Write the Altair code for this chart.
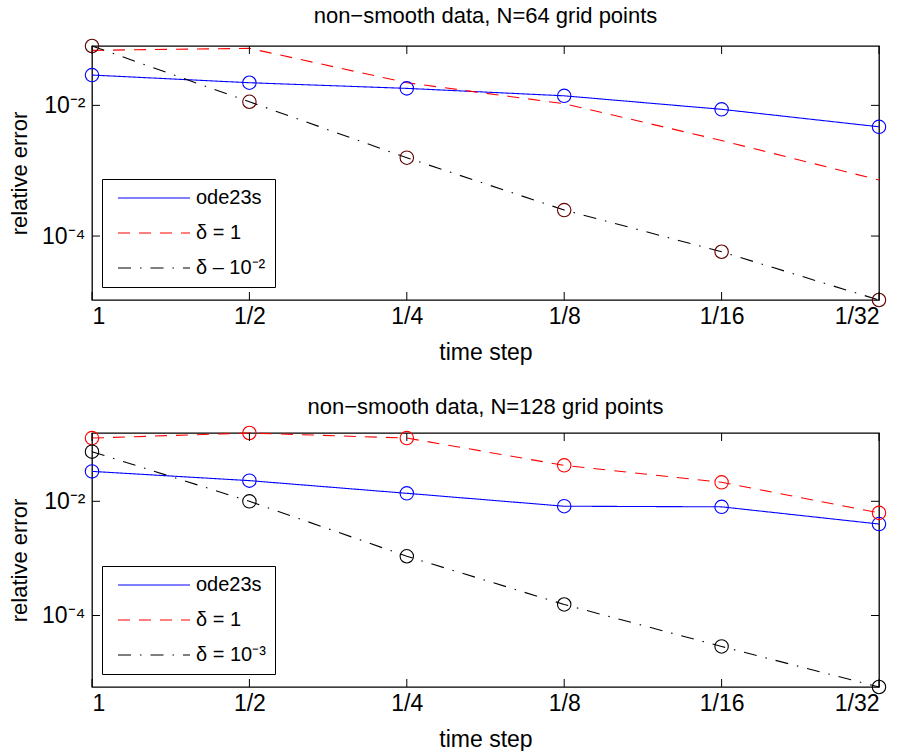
import json
import altair as alt
import pandas as pd

# ---------------- data ----------------
time_steps = ["1", "1/2", "1/4", "1/8", "1/16", "1/32"]

top_names = ["ode23s", "δ = 1", "δ – 10⁻²"]
bot_names = ["ode23s", "δ = 1", "δ = 10⁻³"]

top_ode23s = [0.0291, 0.0222, 0.0182, 0.0140, 0.0087, 0.0047]
top_delta1 = [0.0695, 0.0746, 0.0222, 0.0106, 0.0029, 0.00072]
top_deltasmall = [0.081, 0.01135, 0.00158, 0.00025, 5.75e-5, 1.05e-5]

bot_ode23s = [0.0334, 0.0230, 0.0138, 0.0082, 0.0080, 0.0040]
bot_delta1 = [0.128, 0.157, 0.128, 0.0426, 0.0215, 0.00627]
bot_deltasmall = [0.074, 0.0100, 0.00109, 0.000156, 2.87e-5, 5.6e-6]

top_markers = [True, False, True]
bot_markers = [True, True, True]

line_colors = ["#0000ff", "#ff0000", "#000000"]
top_marker_colors = ["#0000ff", "#ff0000", "#600000"]
bot_marker_colors = ["#0000ff", "#ff0000", "#000000"]
dashes = [[1, 0], [12, 9], [13, 9, 1.5, 9]]

y_ticks = [1e-2, 1e-4]
y_tick_labels = ["10⁻²", "10⁻⁴"]
top_ydomain = [1.05e-5, 0.081]
bot_ydomain = [5.6e-6, 0.157]

FONT = "Liberation Sans"
W, H = 787, 254


def panel(title, series_vals, names, markers, marker_colors, ydomain, title_offset):
    rows = []
    for name, vals, mk in zip(names, series_vals, markers):
        for i, v in enumerate(vals):
            rows.append({"k": i, "err": v, "series": name, "marker": mk})
    df = pd.DataFrame(rows)

    x_label_expr = json.dumps(time_steps) + "[datum.value]"
    y_label_expr = "".join(
        f"abs(datum.value - {v}) < {v * 0.01} ? '{l}' : " for v, l in zip(y_ticks, y_tick_labels)
    ) + "''"

    x_enc = alt.X(
        "k:Q",
        scale=alt.Scale(domain=[0, len(time_steps) - 1], nice=False, zero=False),
        axis=alt.Axis(
            values=list(range(len(time_steps))),
            labelExpr=x_label_expr,
            labelOverlap=False,
            title="time step",
            labelPadding=5,
            titlePadding=13,
        ),
    )
    y_enc = alt.Y(
        "err:Q",
        scale=alt.Scale(type="log", domain=ydomain, nice=False),
        axis=alt.Axis(
            values=y_ticks,
            labelExpr=y_label_expr,
            labelOverlap=False,
            title="relative error",
            labelPadding=7,
            titlePadding=10,
            titleFontSize=22,
        ),
    )

    legend = alt.Legend(
        title=None,
        orient="none",
        legendX=10,
        legendY=133,
        direction="vertical",
        strokeColor="black",
        fillColor="white",
        padding=9,
        symbolType="M-36,0H36",
        symbolSize=4,
        symbolOffset=33,
        symbolStrokeWidth=1.2,
        labelFontSize=20,
        labelFont=FONT,
        labelColor="black",
        labelOffset=32,
        rowPadding=15,
        offset=0,
    )

    lines = alt.Chart(df).mark_line(strokeWidth=1.1).encode(
        x=x_enc,
        y=y_enc,
        color=alt.Color("series:N", scale=alt.Scale(domain=names, range=line_colors), legend=legend, sort=names),
        strokeDash=alt.StrokeDash("series:N", scale=alt.Scale(domain=names, range=dashes), legend=legend, sort=names),
    )
    points = alt.Chart(df).transform_filter("datum.marker").mark_point(
        shape="circle", size=180, filled=False, strokeWidth=1.1, opacity=1
    ).encode(
        x=x_enc,
        y=y_enc,
        stroke=alt.Stroke("series:N", scale=alt.Scale(domain=names, range=marker_colors), legend=None),
    )

    ydf = pd.DataFrame({"err": y_ticks})
    xdf = pd.DataFrame({"k": list(range(len(time_steps)))})
    tick_style = dict(color="black", thickness=1, size=8, opacity=1)
    left_t = alt.Chart(ydf).mark_tick(orient="horizontal", **tick_style).encode(y=y_enc, x=alt.value(4))
    right_t = alt.Chart(ydf).mark_tick(orient="horizontal", **tick_style).encode(y=y_enc, x=alt.value(W - 4))
    bot_t = alt.Chart(xdf).mark_tick(orient="vertical", **tick_style).encode(x=x_enc, y=alt.value(H - 4))
    top_t = alt.Chart(xdf).mark_tick(orient="vertical", **tick_style).encode(x=x_enc, y=alt.value(4))

    return alt.layer(lines, points, left_t, right_t, bot_t, top_t).properties(
        width=W,
        height=H,
        title=alt.TitleParams(
            title, fontSize=22, font=FONT, fontWeight="normal", color="black", offset=title_offset, frame="group"
        ),
    )


top = panel(
    "non−smooth data, N=64 grid points",
    [top_ode23s, top_delta1, top_deltasmall],
    top_names,
    top_markers,
    top_marker_colors,
    top_ydomain,
    9,
)
bottom = panel(
    "non−smooth data, N=128 grid points",
    [bot_ode23s, bot_delta1, bot_deltasmall],
    bot_names,
    bot_markers,
    bot_marker_colors,
    bot_ydomain,
    5,
)

chart = (
    alt.vconcat(top, bottom, spacing=30)
    .resolve_scale(y="independent", color="independent", strokeDash="independent", stroke="independent")
    .resolve_legend(color="independent", strokeDash="independent")
    .properties(padding={"left": 7, "top": 4, "right": 5, "bottom": 0}, background="white")
    .configure_view(stroke="black", strokeWidth=1.3)
    .configure_axis(
        domain=False,
        ticks=False,
        grid=False,
        labelFont=FONT,
        titleFont=FONT,
        labelFontSize=23,
        titleFontSize=23,
        labelColor="black",
        titleColor="black",
        titleFontWeight="normal",
    )
)

chart.save("out.html", embed_options={"renderer": "svg", "actions": False})
